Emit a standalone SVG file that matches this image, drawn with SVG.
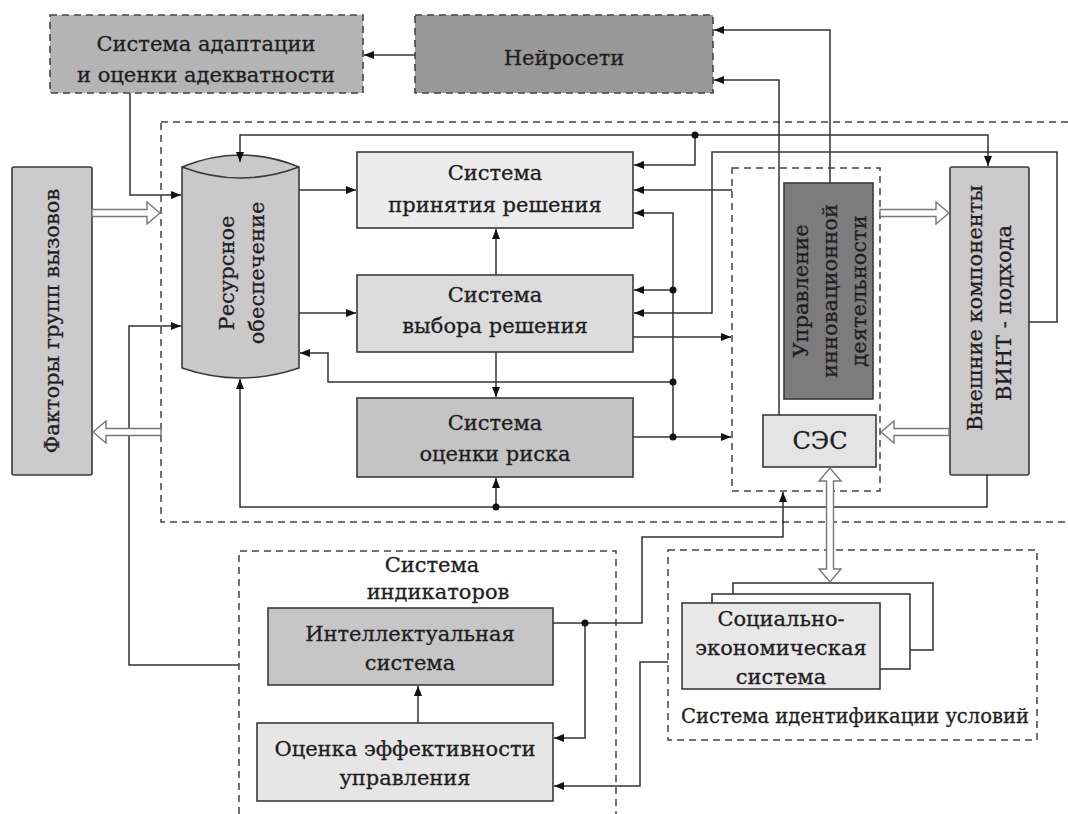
<svg xmlns="http://www.w3.org/2000/svg" width="1068" height="814" viewBox="0 0 1068 814" font-family="'DejaVu Serif', 'Liberation Serif', serif">
<style>
text{font-family:'DejaVu Serif','Liberation Serif',serif;font-size:21px;fill:#1e1e1e;stroke:#1e1e1e;stroke-width:0.3;text-anchor:middle;dominant-baseline:central}
.box{stroke:#3a3a3a;stroke-width:1.6}
.dash{fill:none;stroke:#444;stroke-width:1.5;stroke-dasharray:7 5}
.dbox{stroke:#444;stroke-width:1.6;stroke-dasharray:7 5}
.lna{fill:none;stroke:#333;stroke-width:1.5;marker-end:url(#ah)}
.hol{fill:#fff;stroke:#777;stroke-width:1.4}
.dot{fill:#111}
</style>
<defs>
<marker id="ah" markerUnits="userSpaceOnUse" markerWidth="12" markerHeight="10" refX="10" refY="4" orient="auto">
<path d="M0,0 L10,4 L0,8 Z" fill="#111"/>
</marker>
</defs>
<rect width="1068" height="814" fill="#fff"/>

<g id="containers">
<rect id="outer" class="dash" x="161" y="122" width="930" height="400"/>
<rect id="inner" class="dash" x="732" y="168" width="148" height="323"/>
<path id="indicators" class="dash" d="M239,814 L239,551 L616,551 L616,814"/>
<rect id="ident" class="dash" x="668" y="550" width="369" height="190"/>
</g>

<g id="n-adapt"><rect class="dbox" x="50" y="15" width="313" height="78" fill="#b4b4b4"/>
<text x="206" y="44">Система адаптации</text><text x="206" y="75">и оценки адекватности</text></g>

<g id="n-neuro"><rect class="dbox" x="415" y="15" width="298" height="78" fill="#999"/>
<text x="564" y="58">Нейросети</text></g>

<g id="n-factors"><rect class="box" x="12" y="167" width="80" height="308" rx="2" fill="#cbcbcb"/>
<text transform="translate(52,321) rotate(-90)">Факторы групп вызовов</text></g>

<g id="n-resource">
<path class="box" d="M182,167 Q240,143 299,167 L299,368 Q240,388 182,368 Z" fill="#c9c9c9"/>
<path class="box" d="M182,167 Q240,189 299,167" fill="none"/>
<text transform="translate(227,273) rotate(-90)">Ресурсное</text>
<text transform="translate(257,273) rotate(-90)">обеспечение</text></g>

<g id="n-accept"><rect class="box" x="357" y="152" width="276" height="76" fill="#ececec"/>
<text x="495" y="173">Система</text><text x="495" y="205">принятия решения</text></g>

<g id="n-choice"><rect class="box" x="357" y="275" width="276" height="77" fill="#dcdcdc"/>
<text x="495" y="295">Система</text><text x="495" y="326">выбора решения</text></g>

<g id="n-risk"><rect class="box" x="357" y="398" width="276" height="79" fill="#c4c4c4"/>
<text x="495" y="423">Система</text><text x="495" y="454">оценки риска</text></g>

<g id="n-innov"><rect class="box" x="784" y="183" width="89" height="216" fill="#7c7c7c"/>
<text transform="translate(801,291) rotate(-90)">Управление</text>
<text transform="translate(830,291) rotate(-90)">инновационной</text>
<text transform="translate(859,291) rotate(-90)">деятельности</text></g>

<g id="n-ses"><rect class="box" x="763" y="415" width="113" height="52" fill="#e4e4e4"/>
<text x="820" y="441" style="font-size:24px">СЭС</text></g>

<g id="n-external"><rect class="box" x="950" y="167" width="79" height="308" rx="2" fill="#cacaca"/>
<text transform="translate(975,308) rotate(-90)">Внешние компоненты</text>
<text transform="translate(1004,313) rotate(-90)">ВИНТ - подхода</text></g>

<g id="n-indic-label"><text x="432" y="565">Система</text><text x="438" y="592">индикаторов</text></g>

<g id="n-intel"><rect class="box" x="268" y="608" width="285" height="77" fill="#c6c6c6"/>
<text x="410" y="634">Интеллектуальная</text><text x="410" y="663">система</text></g>

<g id="n-eff"><rect class="box" x="257" y="723" width="296" height="78" fill="#e6e6e6"/>
<text x="405" y="749">Оценка эффективности</text><text x="405" y="778">управления</text></g>

<g id="n-socio">
<rect class="box" x="733" y="583" width="200" height="67" fill="#fff"/>
<rect class="box" x="712" y="594" width="198" height="75" fill="#fff"/>
<rect class="box" x="682" y="603" width="198" height="86" fill="#e8e8e8"/>
<text x="781" y="619">Социально-</text><text x="781" y="648">экономическая</text><text x="781" y="677">система</text></g>

<g id="n-ident-label"><text x="855" y="716" style="font-size:19.5px">Система идентификации условий</text></g>

<g id="connectors">
<path class="lna" d="M415,55 L364,55"/>
<path class="lna" d="M130,93 L130,195 L181,195"/>
<path class="lna" d="M830,183 L830,30 L714,30"/>
<path class="lna" d="M779,415 L779,80 L714,80"/>
<path class="lna" d="M695,135 L240,135 L240,162"/>
<path class="lna" d="M695,135 L988,135 L988,166"/>
<path class="lna" d="M695,135 L695,165 L634,165"/>
<path class="lna" d="M732,190 L634,190"/>
<path class="lna" d="M673,437 L673,213 L634,213"/>
<path class="lna" d="M673,290 L634,290"/>
<path class="lna" d="M673,382 L328,382 L328,353 L300,353"/>
<path class="lna" d="M633,437 L731,437"/>
<path class="lna" d="M1029,322 L1057,322 L1057,152 L712,152 L712,313 L634,313"/>
<path class="lna" d="M633,337 L731,337"/>
<path class="lna" d="M299,190 L356,190"/>
<path class="lna" d="M299,313 L356,313"/>
<path class="lna" d="M496,275 L496,229"/>
<path class="lna" d="M496,352 L496,397"/>
<path class="lna" d="M987,475 L987,507 L240,507 L240,379"/>
<path class="lna" d="M496,507 L496,478"/>
<path class="lna" d="M553,623 L642,623 L642,537 L783,537 L783,492"/>
<path class="lna" d="M585,623 L585,738 L554,738"/>
<path class="lna" d="M668,662 L640,662 L640,786 L554,786"/>
<path class="lna" d="M239,665 L129,665 L129,326 L181,326"/>
<path class="lna" d="M418,723 L418,686"/>
<circle class="dot" cx="695" cy="135" r="3.5"/>
<circle class="dot" cx="673" cy="290" r="3.5"/>
<circle class="dot" cx="673" cy="382" r="3.5"/>
<circle class="dot" cx="673" cy="437" r="3.5"/>
<circle class="dot" cx="496" cy="507" r="3.5"/>
<circle class="dot" cx="585" cy="623" r="3.5"/>
<path class="hol" d="M92,209.5 L147,209.5 L147,202 L160,213 L147,224 L147,216.5 L92,216.5 Z"/>
<path class="hol" d="M161,428.5 L106,428.5 L106,421 L93,432 L106,443 L106,435.5 L161,435.5 Z"/>
<path class="hol" d="M880,209.5 L936,209.5 L936,202 L949,213 L936,224 L936,216.5 L880,216.5 Z"/>
<path class="hol" d="M949,428.5 L894,428.5 L894,421 L881,432 L894,443 L894,435.5 L949,435.5 Z"/>
<path class="hol" d="M826.5,481 L819,481 L830,468 L841,481 L833.5,481 L833.5,569 L841,569 L830,582 L819,569 L826.5,569 Z"/>
</g>
</svg>
